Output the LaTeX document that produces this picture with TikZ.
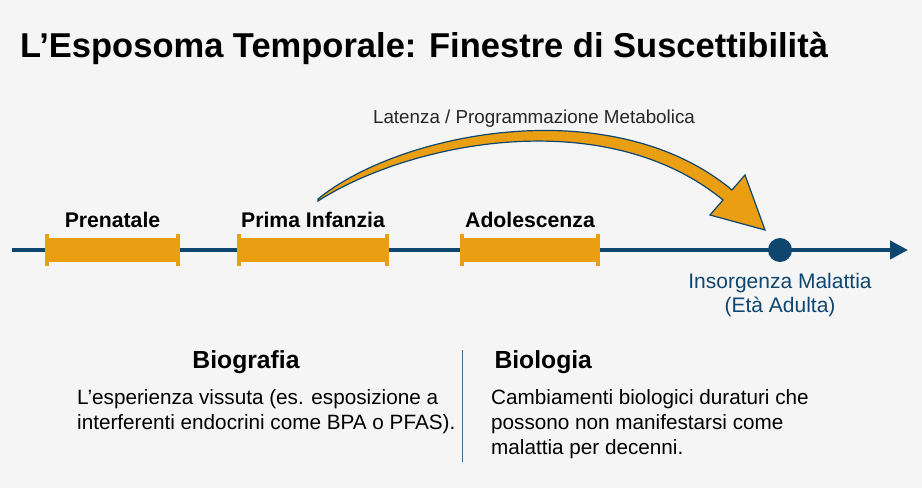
\documentclass[tikz,border=0pt]{standalone}
\usepackage{fontspec}
\setmainfont{Liberation Sans}
\usetikzlibrary{arrows.meta,positioning,calc}
\definecolor{timeblue}{RGB}{14,70,112}
\definecolor{windoworange}{RGB}{234,158,18}
\definecolor{bggray}{RGB}{245,245,245}

\begin{document}
\begin{tikzpicture}[x=1pt, y=-1pt,
    window/.style={fill=windoworange, draw=none, minimum height=24pt, inner sep=0pt},
    wcap/.style={draw=windoworange, line width=3.5pt},
    wlabel/.style={font=\fontsize{21.2}{24}\selectfont\bfseries, anchor=base},
    head/.style={font=\fontsize{24.7}{28}\selectfont\bfseries, anchor=base},
    body/.style={font=\fontsize{20.7}{25.2}\selectfont, align=left, anchor=north west, inner sep=0pt}]
    % background and frame
    \fill[bggray] (0,0) rectangle (922,488);
    \useasboundingbox (0,0) rectangle (922,488);

    \node[anchor=base west, inner sep=0pt, font=\fontsize{34.5}{38}\selectfont\bfseries] (title) at (20,57)
        {L’Esposoma Temporale: Finestre di Suscettibilità};

    % timeline
    \coordinate (tstart) at (12,250);
    \coordinate (tend) at (908,250);
    \draw[timeblue, line width=4pt, -{Triangle[length=18pt,width=18pt]}] (tstart) -- (tend);

    % windows of susceptibility
    \node[window, minimum width=131pt] (prenatal) at (112.5,250) {};
    \node[window, minimum width=148pt] (infancy) at (313,250) {};
    \node[window, minimum width=136pt] (adolescence) at (530,250) {};
    \foreach \w in {prenatal, infancy, adolescence} {
        \draw[wcap] ([yshift=4pt]\w.north west) -- ([yshift=-4pt]\w.south west);
        \draw[wcap] ([yshift=4pt]\w.north east) -- ([yshift=-4pt]\w.south east);
    }
    \node[wlabel] (prenatallbl) at (112.5,227) {Prenatale};
    \node[wlabel] (infancylbl) at (313,227) {Prima Infanzia};
    \node[wlabel] (adolescencelbl) at (530,227) {Adolescenza};

    % disease onset
    \node[circle, fill=timeblue, minimum size=24pt, inner sep=0pt] (onset) at (780,250) {};
    \node[anchor=north, align=center, inner sep=0pt, text=timeblue, font=\fontsize{21}{24}\selectfont] (onsetlbl) at (780,273.5)
        {Insorgenza Malattia\\(Età Adulta)};

    % latency arrow
    \draw[timeblue, fill=windoworange, line width=1.2pt, line join=miter]
        (318,199) .. controls (400,132) and (612,90) .. (732,190)
        -- (745,175) -- (765,230) -- (710,215) -- (723,200)
        .. controls (605,103) and (410,142) .. (318,201) -- cycle;
    \node[anchor=base, font=\fontsize{18.8}{22}\selectfont, text=black!85] (latency) at (534,123)
        {Latenza / Programmazione Metabolica};

    % biography vs biology
    \coordinate (divtop) at (462,350);
    \coordinate (divbot) at (462,462);
    \draw[timeblue!80, line width=0.8pt] (divtop) -- (divbot);

    \node[head] (bioghead) at (246,368) {Biografia};
    \node[body] (biogtext) at (77,389)
        {L’esperienza vissuta (es. esposizione a\\interferenti endocrini come BPA o PFAS).};

    \node[head, anchor=base west] (biolhead) at (491,368) {Biologia};
    \node[body] (bioltext) at (491,389)
        {Cambiamenti biologici duraturi che\\possono non manifestarsi come\\malattia per decenni.};
\end{tikzpicture}
\end{document}
